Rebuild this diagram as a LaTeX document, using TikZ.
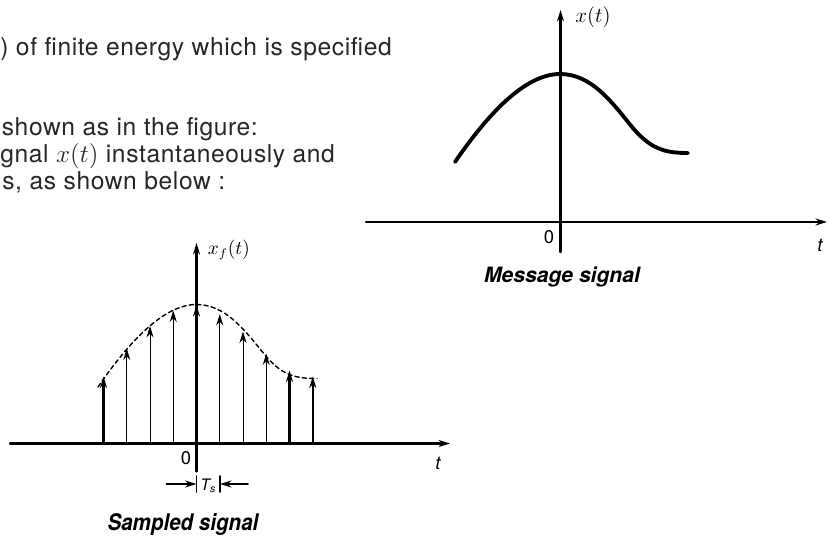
\documentclass[tikz,border=0pt]{standalone}
\usepackage{fontspec}
\setmainfont{TeX Gyre Heros}
\usetikzlibrary{arrows.meta}

\begin{document}
\begin{tikzpicture}[>={Stealth[length=2.3mm,width=1.4mm]},line cap=round,
  axis/.style={line width=1.3pt,->},
  lbl/.style={font=\fontsize{10.5}{12}\selectfont,inner sep=0pt},
  txt/.style={font=\fontsize{14}{17}\selectfont\addfontfeatures{LetterSpace=2.5},anchor=base west,inner sep=0pt,text=black!85},
  capt/.style={font=\fontsize{12}{14}\selectfont\bfseries\itshape,inner sep=0pt}]
\useasboundingbox (0,0) rectangle (16.6,10.74);
% text around the figure
\node[txt] (l1) at (0.0,9.62) {) of finite energy which is specified};
\node[txt] (l2) at (0.03,8.02) {shown as in the figure:};
\node[txt] (l3) at (0.0,7.48) {gnal $x(t)$ instantaneously and};
\node[txt] (l4) at (0.04,6.94) {s, as shown below :};
% message signal
\coordinate (o1) at (11.21,6.30);
\draw[axis] (7.32,6.30) -- (16.54,6.30);
\draw[axis] (11.21,5.70) -- (11.21,10.54);
\draw[line width=2.2pt] (9.10,7.50) .. controls (9.75,8.45) and (10.5,9.26) .. (11.2,9.26)
  .. controls (11.8,9.26) and (12.2,8.75) .. (12.6,8.25)
  .. controls (13.0,7.75) and (13.3,7.68) .. (13.76,7.68);
\node[lbl,font=\fontsize{12}{14}\selectfont,anchor=west] (xt) at (11.50,10.40) {$x(t)$};
\node[lbl] (z1) at (10.98,6.00) {0};
\node[lbl] (t1) at (16.40,5.84) {\itshape t};
\node[capt] (msg) at (11.24,5.20) {Message signal};
% sampled signal
\coordinate (o2) at (3.93,1.87);
\draw[axis] (0.20,1.87) -- (9.00,1.87);
\draw[axis] (3.93,1.31) -- (3.93,5.88);
\draw[line width=0.8pt,dash pattern=on 2.4pt off 1.8pt] (1.96,3.00) .. controls (2.57,3.89) and (3.27,4.65) .. (3.93,4.65)
  .. controls (4.49,4.65) and (4.87,4.17) .. (5.25,3.70)
  .. controls (5.62,3.23) and (5.90,3.17) .. (6.34,3.17);
\foreach \k/\h/\w in {-4/3.21/1.2,-3/3.77/0.5,-2/4.22/0.5,-1/4.53/0.5,0/4.64/1.3,
                      1/4.46/0.5,2/4.11/0.5,3/3.67/0.5,4/3.33/1.2,5/3.21/1.2}
  \draw[->,line width=\w pt] ({3.93+(\k)*0.465},1.87) -- ({3.93+(\k)*0.465},\h);
\node[lbl,anchor=west] (xf) at (4.15,5.74) {$x_f(t)$};
\node[lbl] (z2) at (3.72,1.58) {0};
\node[lbl] (t2) at (8.76,1.48) {\itshape t};
% sampling interval
\coordinate (ts1) at (3.93,1.06);
\coordinate (ts2) at (4.40,1.06);
\draw[line width=0.9pt] (3.93,0.90) -- (3.93,1.22);
\draw[line width=0.9pt] (4.40,0.90) -- (4.40,1.22);
\draw[->,line width=0.9pt] (3.33,1.06) -- (ts1);
\draw[->,line width=0.9pt] (4.96,1.06) -- (ts2);
\node[lbl,font=\fontsize{9}{10}\selectfont] (ts) at (4.165,1.02) {\itshape T\textsubscript{s}};
\node[capt,font=\fontsize{13}{15}\selectfont\bfseries\itshape,xscale=0.9] (smp) at (3.66,0.24) {Sampled signal};
\end{tikzpicture}
\end{document}
